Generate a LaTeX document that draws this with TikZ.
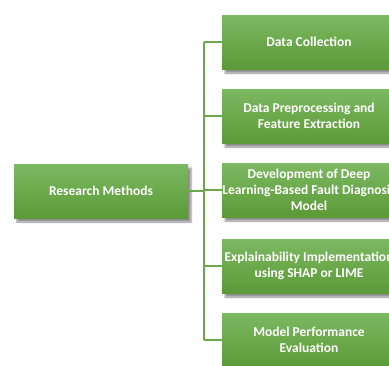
\documentclass[tikz,border=0pt]{standalone}
\usepackage{fontspec}
\setmainfont{Carlito}
\usetikzlibrary{shadows,shadows.blur}
\definecolor{gtop}{HTML}{7DB862}
\definecolor{gbot}{HTML}{5B9A37}
\definecolor{gline}{HTML}{6AA84A}
\tikzset{
  box/.style={rectangle, minimum width=174pt, minimum height=54pt, inner sep=0pt,
    top color=gtop, bottom color=gbot, draw=none,
    blur shadow={shadow xshift=3pt, shadow yshift=-4pt, shadow blur steps=6, shadow opacity=45},
    text=white, font=\bfseries\fontsize{13.5}{16}\selectfont, align=center},
  conn/.style={draw=gline, line width=1.6pt}
}
\begin{document}
\begin{tikzpicture}[x=1pt,y=-1pt]
\useasboundingbox (0,0) rectangle (389,365);
\node[box] (rm) at (101,191) {Research Methods};
\node[box] (b1) at (309,42) {Data Collection};
\node[box] (b2) at (309,116) {Data Preprocessing and\\Feature Extraction};
\node[box] (b3) at (309,190) {Development of Deep\\Learning-Based Fault Diagnosis\\Model};
\node[box] (b4) at (309,266) {Explainability Implementation\\using SHAP or LIME};
\node[box] (b5) at (309,340) {Model Performance\\Evaluation};
\coordinate (t) at (204,42);
\coordinate (bt) at (204,340);
\draw[conn] (t) -- (bt);
\draw[conn] (rm.east) -- (rm.east -| t);
\foreach \n in {b1,b2,b3,b4,b5}{\draw[conn] (\n.west -| t) -- (\n.west);}
\end{tikzpicture}
\end{document}
